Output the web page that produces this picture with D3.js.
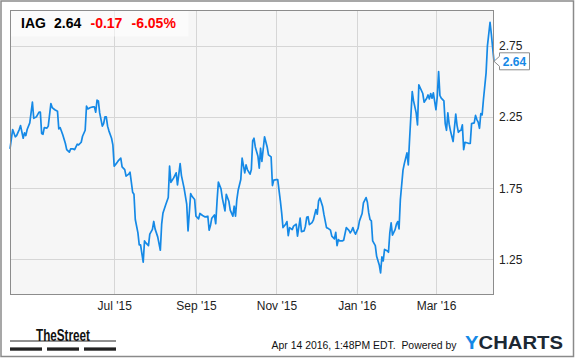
<!DOCTYPE html>
<html>
<head>
<meta charset="utf-8">
<script src="https://cdn.jsdelivr.net/npm/d3@7"></script>
<style>
  html, body { margin: 0; padding: 0; background: #fff; }
  svg { display: block; font-family: "Liberation Sans", Arial, sans-serif; }
</style>
</head>
<body>
<svg id="chart" width="575" height="358"></svg>
<script>
// ---- Data ----
const ticker = "IAG";
const lastPrice = "2.64";
const change = "-0.17";
const changePct = "-6.05%";
const startDate = "2015-04-13";
const endDate = "2016-04-14";
const dayOffsets = [0,2,4,5,7,8,10,11,12,13,15,17,18,20,22,23,24,25,26,28,29,31,32,34,36,37,38,40,42,43,45,46,48,49,51,52,54,55,57,58,59,61,63,64,65,66,67,68,70,71,72,73,74,75,77,78,79,81,82,84,85,87,88,90,91,92,93,94,95,97,98,99,101,102,103,105,106,108,109,110,112,114,115,116,118,120,121,122,124,126,127,129,130,132,134,135,137,138,140,141,143,144,146,148,150,151,152,153,155,156,157,158,160,161,163,164,166,167,169,170,171,172,173,175,176,178,179,180,182,183,184,185,186,188,189,190,191,193,195,196,198,199,200,202,203,205,206,207,209,210,211,212,214,215,217,218,220,221,223,224,225,226,227,229,230,232,233,234,235,237,238,240,241,243,244,246,247,248,249,250,252,253,255,257,258,259,260,261,262,264,265,267,268,270,271,272,273,274,275,277,278,280,281,282,283,284,286,287,288,289,290,292,293,294,295,296,298,299,301,302,303,305,306,308,309,310,313,314,316,317,318,319,320,321,323,324,325,326,327,329,330,331,332,333,334,335,336,338,339,340,341,342,343,344,345,347,348,349,350,352,353,354,355,356,357,358,359,361,362,364,365,366,367];
const prices = [2.025,2.161,2.11,2.119,2.161,2.189,2.10,2.138,2.119,2.161,2.208,2.353,2.24,2.25,2.283,2.283,2.133,2.128,2.175,2.171,2.185,2.344,2.315,2.30,2.29,2.166,2.175,2.124,2.063,2.02,2.002,2.025,2.025,2.02,2.058,2.053,2.072,2.114,2.156,2.325,2.306,2.316,2.32,2.32,2.283,2.367,2.362,2.278,2.185,2.203,2.25,2.25,2.185,2.152,2.10,2.054,1.904,1.927,1.941,1.96,1.899,1.88,1.834,1.848,1.862,1.792,1.721,1.707,1.53,1.436,1.352,1.352,1.23,1.38,1.366,1.347,1.427,1.46,1.516,1.464,1.408,1.314,1.497,1.576,1.632,1.684,1.904,1.79,1.82,1.857,1.773,1.922,1.838,1.75,1.637,1.45,1.712,1.693,1.67,1.553,1.534,1.572,1.558,1.548,1.553,1.455,1.487,1.539,1.562,1.50,1.66,1.792,1.745,1.68,1.59,1.707,1.656,1.595,1.553,1.623,1.553,1.67,1.735,1.81,1.96,1.857,1.913,1.88,1.848,1.88,2.081,2.10,2.039,1.974,1.89,2.03,1.937,2.11,2.039,1.983,1.969,1.768,1.806,1.81,1.81,1.66,1.576,1.473,1.497,1.515,1.417,1.473,1.459,1.483,1.497,1.413,1.54,1.445,1.45,1.483,1.545,1.55,1.494,1.508,1.525,1.60,1.567,1.66,1.68,1.623,1.567,1.473,1.469,1.455,1.413,1.394,1.44,1.347,1.389,1.38,1.38,1.384,1.473,1.454,1.436,1.45,1.473,1.445,1.427,1.469,1.52,1.572,1.646,1.684,1.651,1.576,1.53,1.52,1.38,1.347,1.272,1.211,1.155,1.267,1.239,1.32,1.31,1.30,1.436,1.506,1.42,1.459,1.497,1.515,1.464,1.67,1.876,1.922,1.997,1.913,2.095,2.428,2.362,2.278,2.194,2.475,2.414,2.353,2.381,2.404,2.376,2.414,2.381,2.418,2.30,2.394,2.568,2.40,2.381,2.362,2.203,2.156,2.278,2.199,2.152,2.114,2.077,2.269,2.189,2.142,2.152,2.156,2.194,2.02,2.072,2.067,2.063,2.063,2.203,2.208,2.26,2.231,2.213,2.17,2.273,2.264,2.372,2.559,2.746,2.914,2.83,2.732,2.64];
const xTickDates = ["2015-07-01","2015-09-01","2015-11-01","2016-01-01","2016-03-01"];
const yTicks = [1.25, 1.75, 2.25, 2.75];
const yDomain = [1.0, 3.0];
const timestampText = "Apr 14 2016, 1:48PM EDT.  Powered by";

// ---- Layout ----
const svg = d3.select("#chart");
const plot = { left: 10, top: 10, right: 494, bottom: 295 };
const parse = d3.utcParse("%Y-%m-%d");
const start = parse(startDate);
const data = dayOffsets.map((d, i) => ({ date: d3.utcDay.offset(start, d), value: prices[i] }));

const x = d3.scaleUtc().domain([start, parse(endDate)]).range([plot.left, plot.right]);
const y = d3.scaleLinear().domain(yDomain).range([plot.bottom, plot.top]);

// outer frame
svg.append("rect").attr("x", 1).attr("y", 1).attr("width", 572.5).attr("height", 355.5)
  .attr("fill", "#fff").attr("stroke", "#8a8a8a").attr("stroke-width", 1.5);

// plot background
svg.append("rect").attr("x", plot.left).attr("y", plot.top)
  .attr("width", plot.right - plot.left).attr("height", plot.bottom - plot.top)
  .attr("fill", "#f6f6f6");

// grid
const xTicks = xTickDates.map(parse);
svg.append("g").selectAll("line").data(xTicks).join("line")
  .attr("x1", d => Math.round(x(d)) + 0.5).attr("x2", d => Math.round(x(d)) + 0.5)
  .attr("y1", plot.top).attr("y2", plot.bottom)
  .attr("stroke", "#d6d6d6").attr("stroke-width", 1);
svg.append("g").selectAll("line").data(yTicks).join("line")
  .attr("x1", plot.left).attr("x2", plot.right)
  .attr("y1", d => Math.round(y(d)) + 0.5).attr("y2", d => Math.round(y(d)) + 0.5)
  .attr("stroke", "#d6d6d6").attr("stroke-width", 1);

// header box
svg.append("rect").attr("x", plot.left + 0.5).attr("y", plot.top + 0.5)
  .attr("width", 178).attr("height", 26).attr("fill", "#fff").attr("opacity", 0.55);

// line
const line = d3.line().x(d => x(d.date)).y(d => y(d.value));
svg.append("path").datum(data).attr("d", line)
  .attr("fill", "none").attr("stroke", "#1589e6").attr("stroke-width", 1.7)
  .attr("stroke-linejoin", "round");

// plot border
svg.append("rect").attr("x", plot.left + 0.5).attr("y", plot.top + 0.5)
  .attr("width", plot.right - plot.left - 1).attr("height", plot.bottom - plot.top - 1)
  .attr("fill", "none").attr("stroke", "#8c8c8c").attr("stroke-width", 1);

// x axis labels
const xAxis = d3.axisBottom(x).tickValues(xTicks).tickFormat(d3.utcFormat("%b '%y")).tickSize(0).tickPadding(0);
const gx = svg.append("g").attr("transform", `translate(0,${plot.bottom})`).call(xAxis);
gx.select(".domain").remove();
gx.selectAll("text").attr("dy", null).attr("y", 15).attr("font-size", 12)
  .attr("font-family", "Liberation Sans, Arial, sans-serif").attr("fill", "#222");

// y axis labels
const yAxis = d3.axisRight(y).tickValues(yTicks).tickFormat(d3.format(".2f")).tickSize(0).tickPadding(0);
const gy = svg.append("g").attr("transform", `translate(${plot.right + 5},0)`).call(yAxis);
gy.select(".domain").remove();
gy.selectAll("text").attr("x", 0).attr("dy", "0.34em").attr("font-size", 12)
  .attr("font-family", "Liberation Sans, Arial, sans-serif").attr("fill", "#222");

// last value marker
const last = data[data.length - 1];
const ly = y(last.value), lx = x(last.date);
const bx = plot.right + 5.5;
svg.append("path")
  .attr("d", `M${lx},${ly} L${bx},${ly - 5} L${bx},${ly - 8.5} L${bx + 30},${ly - 8.5} L${bx + 30},${ly + 8.5} L${bx},${ly + 8.5} L${bx},${ly + 5} Z`)
  .attr("fill", "#fff").attr("stroke", "#8c8c8c").attr("stroke-width", 1);
svg.append("text").attr("x", bx + 15).attr("y", ly + 4.5).attr("text-anchor", "middle")
  .attr("font-size", 12).attr("font-weight", "bold").attr("fill", "#1589e6").text(lastPrice);

// header text
const hdr = svg.append("g").attr("font-size", 14).attr("font-weight", "bold");
hdr.append("text").attr("x", 21).attr("y", 28).attr("fill", "#000").text(ticker);
hdr.append("text").attr("x", 54).attr("y", 28).attr("fill", "#000").text(lastPrice);
hdr.append("text").attr("x", 90.5).attr("y", 28).attr("fill", "#f00").text(change);
hdr.append("text").attr("x", 131.5).attr("y", 28).attr("fill", "#f00").text(changePct);

// footer: TheStreet logo
svg.append("line").attr("x1", 10).attr("x2", 116).attr("y1", 341).attr("y2", 341)
  .attr("stroke", "#222").attr("stroke-width", 1);
svg.append("text").attr("x", 36).attr("y", 340.5).attr("font-size", 16).attr("font-weight", "bold")
  .attr("fill", "#111").attr("textLength", 54).attr("lengthAdjust", "spacingAndGlyphs")
  .text("TheStreet");
[[10, 42], [47, 79], [84, 116]].forEach(([a, b]) => {
  svg.append("rect").attr("x", a).attr("y", 347.4).attr("width", b - a).attr("height", 3.3).attr("fill", "#222");
});

// footer: timestamp + YCHARTS
svg.append("text").attr("x", 271.5).attr("y", 348.5).attr("font-size", 11)
  .attr("fill", "#111").attr("textLength", 185).attr("lengthAdjust", "spacingAndGlyphs")
  .attr("xml:space", "preserve").text(timestampText);
const yc = svg.append("text").attr("x", 465).attr("y", 348.7).attr("font-size", 19)
  .attr("font-weight", "bold").attr("textLength", 98).attr("lengthAdjust", "spacingAndGlyphs");
yc.append("tspan").attr("fill", "#1589e6").text("Y");
yc.append("tspan").attr("fill", "#1c2833").text("CHARTS");
</script>
</body>
</html>
